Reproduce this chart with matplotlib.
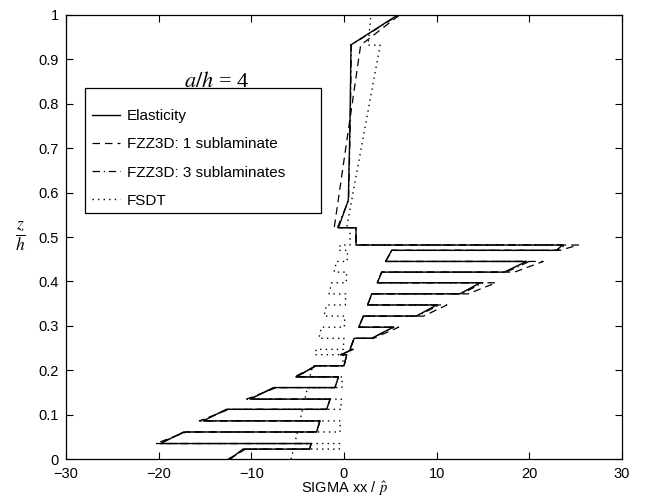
import numpy as np
import matplotlib
matplotlib.use("Agg")
import matplotlib.pyplot as plt
from matplotlib.patches import Rectangle

plt.rcParams['font.family'] = ['Liberation Sans', 'DejaVu Sans']
plt.rcParams['mathtext.fontset'] = 'stix'

# layer interfaces z/h (bottom to top)
z_int = [0.000, 0.0225, 0.035, 0.061, 0.086, 0.112, 0.135, 0.161, 0.185, 0.210,
         0.235, 0.247, 0.272, 0.297, 0.322, 0.347, 0.372, 0.397, 0.421, 0.445,
         0.470, 0.482, 0.521, 0.932, 1.000]

# stress at bottom / top of each layer
elas_bot = [-12.3, -3.7, -19.8, -2.95, -15.2, -1.87, -10.1, -0.97, -5.1, 0.0,
            -0.3, 0.65, 3.0, 1.6, 7.8, 2.55, 12.5, 3.6, 17.3, 4.5,
            22.9, 1.3, -0.6, 0.7]
elas_top = [-10.9, -3.55, -17.3, -2.6, -12.7, -1.5, -7.6, -0.6, -3.1, 0.3,
            0.9, 1.1, 5.3, 2.1, 10.0, 3.0, 14.7, 4.07, 19.7, 5.15,
            23.6, 1.3, 0.76, 5.8]
# extra points inside the core (elasticity)
elas_core_z = [0.583, 0.756]
elas_core_s = [0.47, 0.65]

fzz1_bot = [-12.5, -3.7, -20.3, -2.95, -15.6, -1.87, -10.5, -0.97, -5.4, 0.0,
            -0.4, 0.65, 3.2, 1.6, 8.6, 2.55, 13.4, 3.6, 18.4, 4.5,
            23.3, 1.3, -1.05, 1.8]
fzz1_top = [-10.6, -3.55, -17.0, -2.6, -12.4, -1.5, -7.3, -0.6, -2.9, 0.3,
            1.0, 1.1, 5.9, 2.1, 11.1, 3.0, 16.4, 4.07, 21.5, 5.15,
            25.3, 1.3, 1.8, 6.0]

fzz3_bot = [-12.3, -3.7, -19.9, -2.95, -15.3, -1.87, -10.2, -0.97, -5.2, 0.0,
            -0.3, 0.65, 3.0, 1.6, 7.9, 2.55, 12.7, 3.6, 17.5, 4.5,
            23.0, 1.3, -0.7, 0.75]
fzz3_top = [-10.8, -3.55, -17.2, -2.6, -12.6, -1.5, -7.5, -0.6, -3.0, 0.3,
            0.9, 1.1, 5.4, 2.1, 10.3, 3.0, 15.0, 4.07, 20.0, 5.15,
            23.9, 1.3, 0.8, 5.9]
fzz3_core_s = [0.5, 0.68]

fsdt_bot = [-5.70, -0.50, -5.32, -0.43, -4.75, -0.33, -4.22, -0.23, -3.67, -0.13,
            -3.12, -0.06, -2.71, 0.04, -2.16, 0.14, -1.61, 0.24, -1.07, 0.34,
            -0.53, 0.65, 0.29, 2.6]
fsdt_top = [-5.45, -0.48, -5.03, -0.38, -4.47, -0.28, -3.93, -0.18, -3.39, -0.08,
            -2.98, -0.01, -2.43, 0.09, -1.88, 0.19, -1.33, 0.29, -0.80, 0.39,
            -0.40, 0.65, 3.9, 2.9]


def profile(bot, top, core_s=None):
    zz, ss = [], []
    n = len(bot)
    for i in range(n):
        zz.append(z_int[i]); ss.append(bot[i])
        if core_s is not None and i == n - 2:
            for cz, cs in zip(elas_core_z, core_s):
                zz.append(cz); ss.append(cs)
        zz.append(z_int[i + 1]); ss.append(top[i])
    return np.array(ss), np.array(zz)


fig = plt.figure(figsize=(6.53, 4.99), dpi=100)
ax = fig.add_axes([0.101, 0.080, 0.8515, 0.890])

s, z = profile(elas_bot, elas_top, elas_core_s)
ax.plot(s, z, color='black', lw=1.0, ls='-', label='Elasticity')
s, z = profile(fzz1_bot, fzz1_top)
ax.plot(s, z, color='black', lw=0.9, ls=(0, (6, 4)), label='FZZ3D: 1 sublaminate')
s, z = profile(fzz3_bot, fzz3_top, fzz3_core_s)
ax.plot(s, z, color='black', lw=0.9, ls=(0, (6, 3, 1, 3)), label='FZZ3D: 3 sublaminates')
s, z = profile(fsdt_bot, fsdt_top)
ax.plot(s, z, color='black', lw=1.0, ls=(0, (1, 3)), label='FSDT')

ax.set_xlim(-30, 30)
ax.set_ylim(0, 1)
ax.set_xticks(np.arange(-30, 31, 10))
ax.set_yticks(np.arange(0, 1.01, 0.1))
ax.set_yticklabels(['0', '0.1', '0.2', '0.3', '0.4', '0.5', '0.6', '0.7', '0.8', '0.9', '1'])
ax.tick_params(direction='in', top=True, right=True, labelsize=10.5, length=5, width=0.8)
ax.tick_params(axis='x', pad=6)
ax.tick_params(axis='y', pad=5)
for sp in ax.spines.values():
    sp.set_linewidth(0.9)

ax.set_xlabel(r'SIGMA xx / $\hat{p}$', fontsize=10.5, labelpad=-1)
fig.text(0.031, 0.525, r'$\frac{z}{h}$', fontsize=18, ha='center', va='center')

ax.text(-13.8, 0.850, r'$a/h$ = 4', fontsize=16, ha='center', va='center',
        family='Liberation Serif')

# legend frame
ax.add_patch(Rectangle((0.034, 0.554), 0.425, 0.282, transform=ax.transAxes,
                       fill=True, facecolor='white', edgecolor='black', lw=0.9, zorder=4))
leg = ax.legend(loc='upper left', bbox_to_anchor=(0.046, 0.788), borderaxespad=0,
                fontsize=11, frameon=False, handlelength=1.85, handletextpad=0.45,
                labelspacing=0.93, borderpad=0)
leg.set_zorder(5)

fig.savefig('out.png', dpi=100)
